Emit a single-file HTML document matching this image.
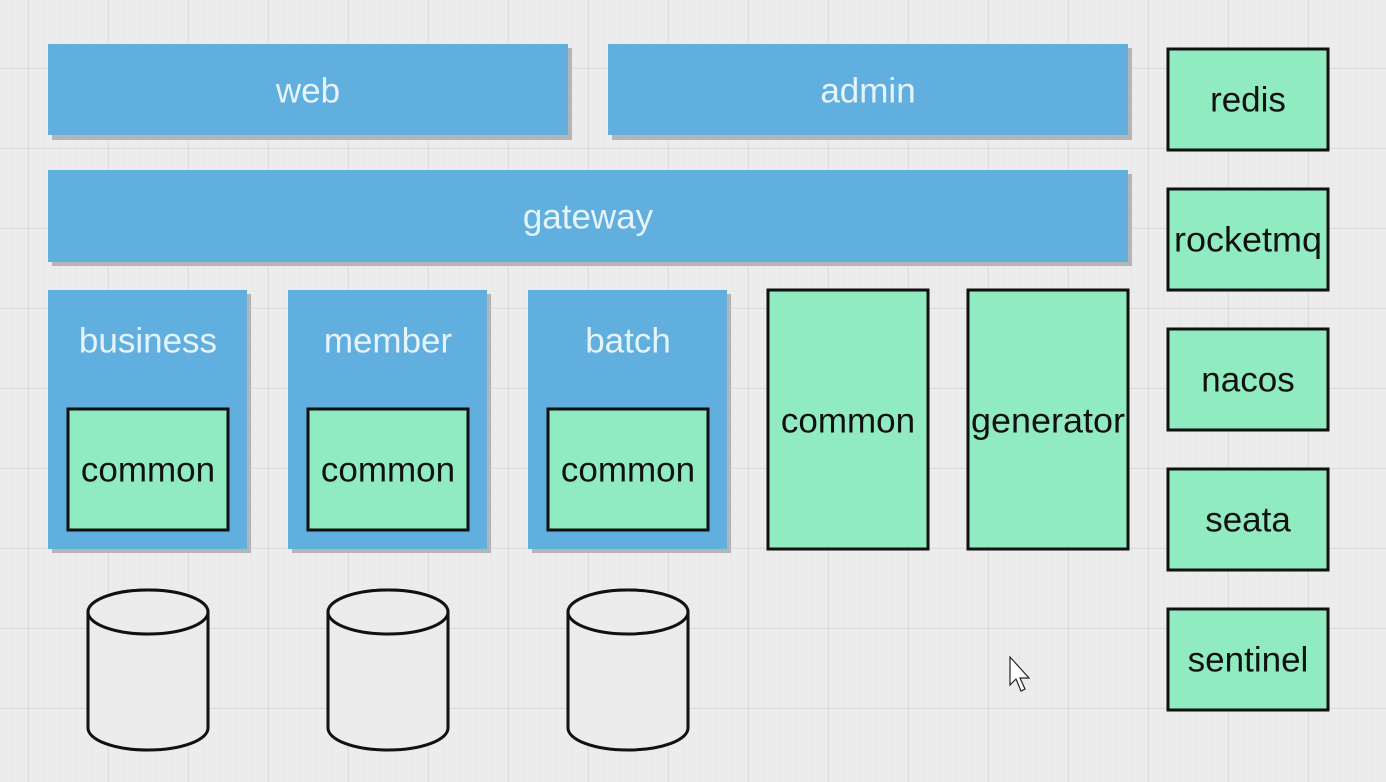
<!DOCTYPE html>
<html><head><meta charset="utf-8"><style>
html,body{margin:0;padding:0;background:#ebebeb;}
svg{display:block}
text{font-family:"Liberation Sans",sans-serif;font-size:35px;text-anchor:middle;dominant-baseline:central}
</style></head><body>
<svg width="1386" height="782" xmlns="http://www.w3.org/2000/svg">
<defs>
<pattern id="mi" width="16" height="16" patternUnits="userSpaceOnUse" x="12" y="4">
<path d="M16 0V16M0 16H16" stroke="#e4e4e4" stroke-width="1" fill="none"/></pattern>
<pattern id="ma" width="80" height="80" patternUnits="userSpaceOnUse" x="28" y="68">
<path d="M0 0V80M0 0H80" stroke="#d4d4d4" stroke-width="1.2" fill="none"/></pattern>
</defs>
<rect width="1386" height="782" fill="#ececec"/>
<rect width="1386" height="782" fill="url(#mi)"/>
<rect width="1386" height="782" fill="url(#ma)"/>
<g fill="#b5b5b5">
<rect x="52" y="48" width="520" height="92"/><rect x="612" y="48" width="520" height="92"/>
<rect x="52" y="174" width="1080" height="92"/>
<rect x="52" y="294" width="199" height="259"/><rect x="292" y="294" width="199" height="259"/><rect x="532" y="294" width="199" height="259"/>
</g>
<g fill="#60afde">
<rect x="48" y="44" width="520" height="91"/><rect x="608" y="44" width="520" height="91"/>
<rect x="48" y="170" width="1080" height="92"/>
<rect x="48" y="290" width="199" height="259"/><rect x="288" y="290" width="199" height="259"/><rect x="528" y="290" width="199" height="259"/>
</g>
<g fill="#e6f3fb">
<text x="308" y="91">web</text><text x="868" y="91">admin</text><text x="588" y="217">gateway</text>
<text x="148" y="341">business</text><text x="388" y="341">member</text><text x="628" y="341">batch</text>
</g>
<g fill="#91ebc0" stroke="#111" stroke-width="3">
<rect x="68" y="409" width="160" height="121"/><rect x="308" y="409" width="160" height="121"/><rect x="548" y="409" width="160" height="121"/>
<rect x="768" y="290" width="160" height="259"/><rect x="968" y="290" width="160" height="259"/>
<rect x="1168" y="49" width="160" height="101"/><rect x="1168" y="189" width="160" height="101"/>
<rect x="1168" y="329" width="160" height="101"/><rect x="1168" y="469" width="160" height="101"/>
<rect x="1168" y="609" width="160" height="101"/>
</g>
<g fill="#111">
<text x="148" y="470">common</text><text x="388" y="470">common</text><text x="628" y="470">common</text>
<text x="848" y="421">common</text><text x="1048" y="421" textLength="154" lengthAdjust="spacingAndGlyphs">generator</text>
<text x="1248" y="100">redis</text><text x="1248" y="240" textLength="148" lengthAdjust="spacingAndGlyphs">rocketmq</text><text x="1248" y="380">nacos</text>
<text x="1248" y="520">seata</text><text x="1248" y="660">sentinel</text>
</g>
<g fill="#ececec" stroke="#111" stroke-width="3">
<path d="M88 612 A60 22 0 0 1 208 612 V728 A60 22 0 0 1 88 728 Z"/><ellipse cx="148" cy="612" rx="60" ry="22"/>
<path d="M328 612 A60 22 0 0 1 448 612 V728 A60 22 0 0 1 328 728 Z"/><ellipse cx="388" cy="612" rx="60" ry="22"/>
<path d="M568 612 A60 22 0 0 1 688 612 V728 A60 22 0 0 1 568 728 Z"/><ellipse cx="628" cy="612" rx="60" ry="22"/>
</g>
<path d="M1010 657 L1010 685 L1016 679 L1021 691 L1025 689 L1020 678 L1029 678 Z" fill="#fff" stroke="#222" stroke-width="1.2"/>
</svg>
</body></html>
